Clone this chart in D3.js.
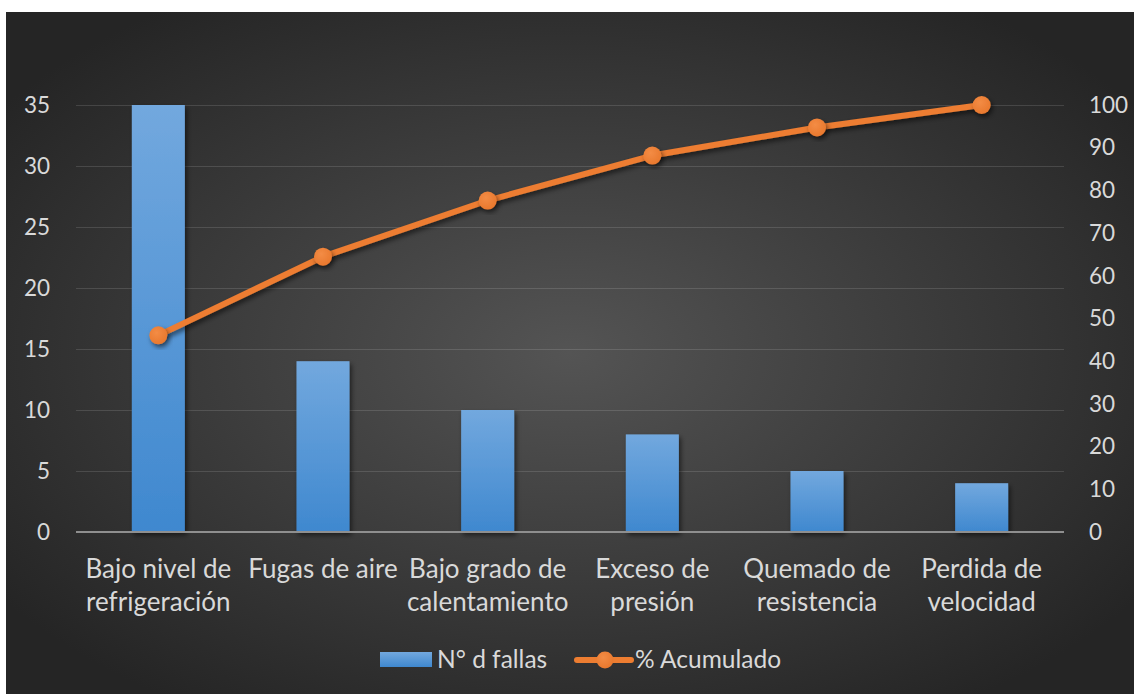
<!DOCTYPE html>
<html>
<head>
<meta charset="utf-8">
<script src="https://cdn.jsdelivr.net/npm/d3@7"></script>
<style>
  html, body { margin: 0; padding: 0; background: #fff; }
  svg { display: block; }
  text { font-family: Lato, "Open Sans", sans-serif; fill: #d9d9d9; }
</style>
</head>
<body>
<svg id="chart" width="1134" height="694"></svg>
<script>
// Pareto data: failure causes, failure counts and cumulative percentage
const categories = [
  "Bajo nivel de refrigeración",
  "Fugas de aire",
  "Bajo grado de calentamiento",
  "Exceso de presión",
  "Quemado de resistencia",
  "Perdida de velocidad"
];
const categoryLines = [
  ["Bajo nivel de", "refrigeración"],
  ["Fugas de aire"],
  ["Bajo grado de", "calentamiento"],
  ["Exceso de", "presión"],
  ["Quemado de", "resistencia"],
  ["Perdida de", "velocidad"]
];
const fallas = [35, 14, 10, 8, 5, 4];
const acumulado = [46.05, 64.47, 77.63, 88.16, 94.74, 100];
const leftTicks = [0, 5, 10, 15, 20, 25, 30, 35];
const rightTicks = [0, 10, 20, 30, 40, 50, 60, 70, 80, 90, 100];
const seriesNames = ["N° d fallas", "% Acumulado"];

const svg = d3.select("#chart");
const defs = svg.append("defs");

// Background: dark radial gradient
const bg = defs.append("radialGradient").attr("id", "bgGrad")
  .attr("cx", "50%").attr("cy", "50%").attr("r", "62%");
bg.append("stop").attr("offset", "0%").attr("stop-color", "#545454");
bg.append("stop").attr("offset", "100%").attr("stop-color", "#252525");

const barGrad = defs.append("linearGradient").attr("id", "barGrad")
  .attr("x1", 0).attr("y1", 0).attr("x2", 0).attr("y2", 1);
barGrad.append("stop").attr("offset", "0%").attr("stop-color", "#72a8de");
barGrad.append("stop").attr("offset", "100%").attr("stop-color", "#3f88cf");

const dotGrad = defs.append("radialGradient").attr("id", "dotGrad")
  .attr("cx", "40%").attr("cy", "35%").attr("r", "70%");
dotGrad.append("stop").attr("offset", "0%").attr("stop-color", "#f38c45");
dotGrad.append("stop").attr("offset", "100%").attr("stop-color", "#e8772c");

const shadow = defs.append("filter").attr("id", "shadow")
  .attr("x", "-30%").attr("y", "-30%").attr("width", "160%").attr("height", "160%");
shadow.append("feDropShadow").attr("dx", 2).attr("dy", 3).attr("stdDeviation", 2.5)
  .attr("flood-color", "#000").attr("flood-opacity", 0.55);

svg.append("rect").attr("x", 6).attr("y", 12).attr("width", 1128).attr("height", 682)
  .attr("fill", "url(#bgGrad)");

// Scales
const x = d3.scaleBand().domain(categories).range([76, 1064])
  .paddingInner(0.678).paddingOuter(0.339);
const yL = d3.scaleLinear().domain([0, 35]).range([532, 105]);
const yR = d3.scaleLinear().domain([0, 100]).range([532, 105]);

// Gridlines
svg.append("g").selectAll("line").data(leftTicks.filter(d => d > 0)).join("line")
  .attr("x1", 76).attr("x2", 1064)
  .attr("y1", d => yL(d) + 0.5).attr("y2", d => yL(d) + 0.5)
  .attr("stroke", "rgba(255,255,255,0.13)").attr("stroke-width", 1);

// Left axis labels
const axL = svg.append("g").attr("transform", "translate(50,0)")
  .call(d3.axisLeft(yL).tickValues(leftTicks).tickSize(0).tickPadding(0));
axL.select(".domain").remove();
axL.selectAll("text").attr("font-size", 22.5).attr("fill", "#d9d9d9")
  .attr("font-family", "Lato, 'Open Sans', sans-serif");

// Right axis labels
const axR = svg.append("g").attr("transform", "translate(1089,0)")
  .call(d3.axisRight(yR).tickValues(rightTicks).tickSize(0).tickPadding(0));
axR.select(".domain").remove();
axR.selectAll("text").attr("font-size", 22.5).attr("fill", "#d9d9d9")
  .attr("font-family", "Lato, 'Open Sans', sans-serif");

// Bars
svg.append("g").selectAll("rect").data(fallas).join("rect")
  .attr("x", (d, i) => x(categories[i]))
  .attr("width", x.bandwidth())
  .attr("y", d => yL(d))
  .attr("height", d => yL(0) - yL(d))
  .attr("fill", "url(#barGrad)")
  .attr("filter", "url(#shadow)");

// Baseline
svg.append("line").attr("x1", 76).attr("x2", 1064)
  .attr("y1", yL(0)).attr("y2", yL(0))
  .attr("stroke", "#8f8f8f").attr("stroke-width", 2);

// Category labels
const cx = c => x(c) + x.bandwidth() / 2;
const catG = svg.append("g").selectAll("text").data(categories).join("text")
  .attr("text-anchor", "middle").attr("font-size", 26);
catG.each(function (c, i) {
  d3.select(this).selectAll("tspan").data(categoryLines[i]).join("tspan")
    .attr("x", cx(c))
    .attr("y", (l, j) => 578 + j * 33)
    .text(l => l);
});

// Cumulative percentage line
const line = d3.line().x((d, i) => cx(categories[i])).y(d => yR(d));
svg.append("path").datum(acumulado).attr("d", line)
  .attr("fill", "none").attr("stroke", "#ed7d31").attr("stroke-width", 6)
  .attr("stroke-linejoin", "round").attr("stroke-linecap", "round")
  .attr("filter", "url(#shadow)");
svg.append("g").selectAll("circle").data(acumulado).join("circle")
  .attr("cx", (d, i) => cx(categories[i])).attr("cy", d => yR(d))
  .attr("r", 9).attr("fill", "url(#dotGrad)").attr("filter", "url(#shadow)");

// Legend
const lg = svg.append("g");
lg.append("rect").attr("x", 380).attr("y", 652).attr("width", 52).attr("height", 15)
  .attr("fill", "url(#barGrad)");
lg.append("text").attr("x", 437).attr("y", 668).attr("font-size", 24.5).text(seriesNames[0]);
lg.append("line").attr("x1", 577).attr("x2", 631).attr("y1", 660).attr("y2", 660)
  .attr("stroke", "#ed7d31").attr("stroke-width", 6).attr("stroke-linecap", "round");
lg.append("circle").attr("cx", 605).attr("cy", 660).attr("r", 8.5).attr("fill", "url(#dotGrad)");
lg.append("text").attr("x", 635).attr("y", 668).attr("font-size", 24.5).text(seriesNames[1]);
</script>
</body>
</html>
